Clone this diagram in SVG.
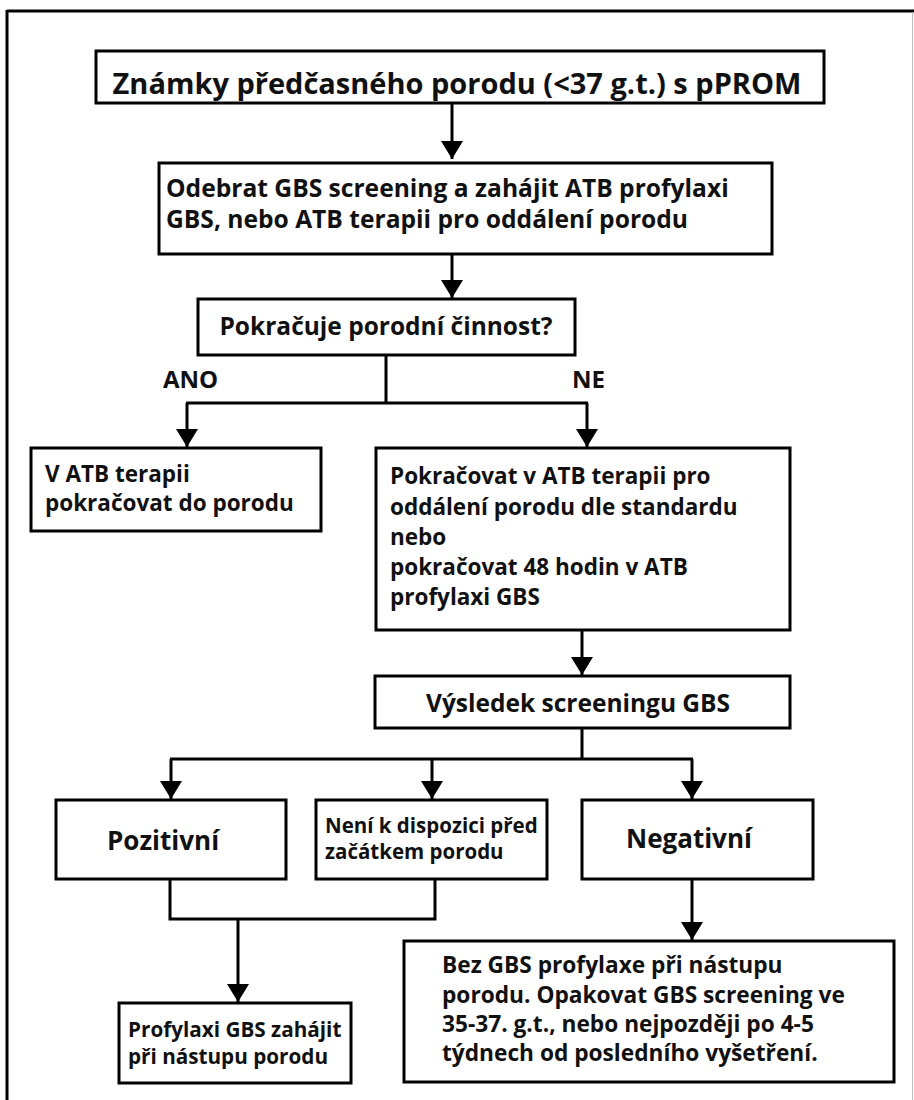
<svg xmlns="http://www.w3.org/2000/svg" width="914" height="1100" viewBox="0 0 914 1100">
  <defs>
    <marker id="arr" viewBox="0 0 18 22" refX="18" refY="11" markerWidth="18" markerHeight="22" markerUnits="userSpaceOnUse" orient="auto">
      <path d="M0,0 L18,11 L0,22 z" fill="#000"/>
    </marker>
    <style>
      .box { fill: #fff; stroke: #000; stroke-width: 3; }
      .t { font-family: "Open Sans", "Liberation Sans", sans-serif; font-weight: bold; fill: #111; }
      .c { fill: none; stroke: #000; stroke-width: 3; }
    </style>
  </defs>
  <rect width="914" height="1100" fill="#fff"/>
  <g id="frame">
    <line x1="7" y1="11" x2="914" y2="11" stroke="#000" stroke-width="3"/>
    <line x1="7" y1="10" x2="7" y2="1100" stroke="#000" stroke-width="3"/>
    <line x1="912.5" y1="12" x2="912.5" y2="1100" stroke="#bbb" stroke-width="1"/>
  </g>

  <g id="connectors">
    <path class="c" d="M452,104 V159" marker-end="url(#arr)"/>
    <path class="c" d="M452,255 V298" marker-end="url(#arr)"/>
    <path class="c" d="M386,356 V403 M186,403 H588"/>
    <path class="c" d="M187,403 V447" marker-end="url(#arr)"/>
    <path class="c" d="M587,403 V447" marker-end="url(#arr)"/>
    <path class="c" d="M582,631 V675" marker-end="url(#arr)"/>
    <path class="c" d="M582,729 V759 M170,759 H693"/>
    <path class="c" d="M171,759 V799" marker-end="url(#arr)"/>
    <path class="c" d="M432,759 V799" marker-end="url(#arr)"/>
    <path class="c" d="M692,759 V799" marker-end="url(#arr)"/>
    <path class="c" d="M170,880 V919 H435 V880"/>
    <path class="c" d="M238,919 V1002" marker-end="url(#arr)"/>
    <path class="c" d="M692,880 V940" marker-end="url(#arr)"/>
  </g>

  <g id="n1">
    <rect class="box" x="96" y="51" width="728" height="52" stroke-width="4"/>
    <text class="t" x="457" y="94" font-size="29" text-anchor="middle">Známky předčasného porodu (&lt;37 g.t.) s pPROM</text>
  </g>
  <g id="n2">
    <rect class="box" x="159" y="163" width="613" height="91"/>
    <text class="t" x="166" y="197" font-size="24.6">Odebrat GBS screening a zahájit ATB profylaxi</text>
    <text class="t" x="166" y="228" font-size="24.6">GBS, nebo ATB terapii pro oddálení porodu</text>
  </g>
  <g id="n3">
    <rect class="box" x="198" y="299" width="377" height="56"/>
    <text class="t" x="386" y="335" font-size="24.5" text-anchor="middle">Pokračuje porodní činnost?</text>
  </g>
  <g id="lbl-ano"><text class="t" x="163" y="388" font-size="24">ANO</text></g>
  <g id="lbl-ne"><text class="t" x="572" y="388" font-size="24">NE</text></g>
  <g id="n4">
    <rect class="box" x="31" y="448" width="290" height="83"/>
    <text class="t" x="45" y="482" font-size="22.5">V ATB terapii</text>
    <text class="t" x="45" y="511" font-size="22.5">pokračovat do porodu</text>
  </g>
  <g id="n5">
    <rect class="box" x="376" y="448" width="414" height="182"/>
    <text class="t" x="390" y="484" font-size="22.5">Pokračovat v ATB terapii pro</text>
    <text class="t" x="390" y="515" font-size="22.5">oddálení porodu dle standardu</text>
    <text class="t" x="390" y="545" font-size="22.5">nebo</text>
    <text class="t" x="390" y="575" font-size="22.5">pokračovat 48 hodin v ATB</text>
    <text class="t" x="390" y="605" font-size="22.5">profylaxi GBS</text>
  </g>
  <g id="n6">
    <rect class="box" x="375" y="676" width="415" height="52"/>
    <text class="t" x="426" y="712" font-size="24.5">Výsledek screeningu GBS</text>
  </g>
  <g id="n7">
    <rect class="box" x="56" y="800" width="230" height="79"/>
    <text class="t" x="107" y="850" font-size="26">Pozitivní</text>
  </g>
  <g id="n8">
    <rect class="box" x="316" y="800" width="231" height="79"/>
    <text class="t" x="325" y="833" font-size="20.5">Není k dispozici před</text>
    <text class="t" x="325" y="859" font-size="20.5">začátkem porodu</text>
  </g>
  <g id="n9">
    <rect class="box" x="582" y="800" width="231" height="79"/>
    <text class="t" x="626" y="848" font-size="26">Negativní</text>
  </g>
  <g id="n10">
    <rect class="box" x="119" y="1003" width="232" height="80"/>
    <text class="t" x="128" y="1037" font-size="20.7">Profylaxi GBS zahájit</text>
    <text class="t" x="128" y="1064" font-size="20.7">při nástupu porodu</text>
  </g>
  <g id="n11">
    <rect class="box" x="404" y="941" width="490" height="141"/>
    <text class="t" x="442" y="973" font-size="22.7">Bez GBS profylaxe při nástupu</text>
    <text class="t" x="442" y="1003" font-size="22.7">porodu. Opakovat GBS screening ve</text>
    <text class="t" x="442" y="1032" font-size="22.7">35-37. g.t., nebo nejpozději po 4-5</text>
    <text class="t" x="442" y="1061" font-size="22.7">týdnech od posledního vyšetření.</text>
  </g>
</svg>
